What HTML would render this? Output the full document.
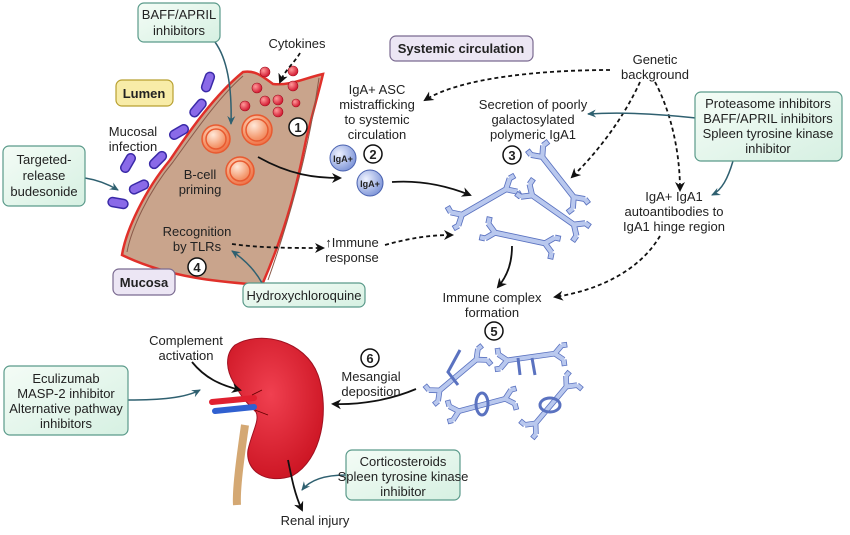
<!DOCTYPE html>
<html><head><meta charset="utf-8"><style>
html,body{margin:0;padding:0;background:#fff;}
svg{display:block;font-family:"Liberation Sans",Arial,sans-serif;}
text{font-size:13px;fill:#222;}
</style></head><body>
<svg width="850" height="535" viewBox="0 0 850 535">
<defs>
<marker id="ab" markerWidth="10" markerHeight="10" refX="8" refY="5" orient="auto" markerUnits="userSpaceOnUse"><path d="M0 0 L10 5 L0 10 L3 5Z" fill="#111"/></marker>
<marker id="at" markerWidth="10" markerHeight="10" refX="8" refY="5" orient="auto" markerUnits="userSpaceOnUse"><path d="M0 1 L9 5 L0 9 L3 5Z" fill="#2f6070"/></marker>
<radialGradient id="cell" cx="0.4" cy="0.35" r="0.7"><stop offset="0" stop-color="#ffe8d8"/><stop offset="0.6" stop-color="#f49a70"/><stop offset="1" stop-color="#ee6a40"/></radialGradient>
<radialGradient id="dot" cx="0.35" cy="0.35" r="0.7"><stop offset="0" stop-color="#ff9a9a"/><stop offset="1" stop-color="#d0102a"/></radialGradient>
<radialGradient id="iga" cx="0.35" cy="0.35" r="0.7"><stop offset="0" stop-color="#eef2ff"/><stop offset="1" stop-color="#7e95d8"/></radialGradient>
<radialGradient id="kid" cx="0.45" cy="0.4" r="0.7"><stop offset="0" stop-color="#f04050"/><stop offset="1" stop-color="#c8101e"/></radialGradient>
<linearGradient id="box" x1="0" y1="0" x2="1" y2="1"><stop offset="0" stop-color="#f4fcf6"/><stop offset="1" stop-color="#d6f0e2"/></linearGradient>
<g id="dim">
<path d="M-30 0H30 M30 0L40 -9 M30 0L40 9 M-30 0L-40 -9 M-30 0L-40 9 M40 -9L47 -9 M40 9 L40 17 M-40 -9L-40 -17 M-40 9L-47 9" stroke="#5a72c0" stroke-width="7" fill="none" stroke-linecap="butt"/>
<path d="M-30 0H30 M30 0L40 -9 M30 0L40 9 M-30 0L-40 -9 M-30 0L-40 9 M40 -9L46 -9 M40 9 L40 16 M-40 -9L-40 -16 M-40 9L-46 9" stroke="#b9c8ee" stroke-width="5" fill="none"/>
</g>
<g id="rod"><rect x="-10" y="-4.5" width="20" height="9" rx="4.5" fill="#8a6ae8" stroke="#3a2aa8" stroke-width="1.5"/></g>
</defs>

<path d="M243 72 C255 70 262 76 273 84 C290 86 305 78 323 74 C318 95 312 115 306 140 C298 180 288 225 262 285 C220 282 170 278 122 255 C126 230 145 190 170 160 C190 130 215 95 243 72Z" fill="#c9a48c" stroke="#e0302a" stroke-width="2.5"/>
<path d="M243 76 C218 98 194 133 173 162 C148 192 131 230 127 252" fill="none" stroke="#8a5a4a" stroke-width="1"/>
<path d="M319 78 C313 120 300 190 268 280" fill="none" stroke="#8a5a4a" stroke-width="1"/>

<use href="#rod" transform="translate(208,82) rotate(-70)"/>
<use href="#rod" transform="translate(198,108) rotate(-50)"/>
<use href="#rod" transform="translate(179,132) rotate(-30)"/>
<use href="#rod" transform="translate(158,160) rotate(-45)"/>
<use href="#rod" transform="translate(128,163) rotate(-60)"/>
<use href="#rod" transform="translate(139,187) rotate(-25)"/>
<use href="#rod" transform="translate(118,203) rotate(10)"/>

<g fill="url(#dot)" stroke="#a01020" stroke-width="0.6">
<circle cx="265" cy="72" r="5"/><circle cx="293" cy="71" r="5"/><circle cx="257" cy="88" r="5"/><circle cx="293" cy="86" r="5"/>
<circle cx="265" cy="101" r="5"/><circle cx="278" cy="100" r="5"/><circle cx="278" cy="112" r="5"/><circle cx="245" cy="106" r="5"/><circle cx="296" cy="103" r="4"/></g>

<g stroke="#e85a30" stroke-width="1.5">
<circle cx="216" cy="139" r="14" fill="url(#cell)"/><circle cx="216" cy="139" r="10" fill="none"/>
<circle cx="257" cy="130" r="15" fill="url(#cell)"/><circle cx="257" cy="130" r="11" fill="none"/>
<circle cx="240" cy="171" r="14" fill="url(#cell)"/><circle cx="240" cy="171" r="10" fill="none"/></g>

<path d="M245 425 C240 460 236 490 237 505" stroke="#d4a873" stroke-width="8" fill="none"/>
<path d="M235 345 C260 330 305 340 318 375 C330 410 322 460 292 476 C265 485 245 470 248 450 C252 432 260 420 256 412 C248 404 240 396 236 386 C226 372 224 355 235 345Z" fill="url(#kid)" stroke="#a01020" stroke-width="1"/>
<path d="M212 402 L254 398" stroke="#e02030" stroke-width="6" stroke-linecap="round"/>
<path d="M215 411 L254 407" stroke="#3060d0" stroke-width="6" stroke-linecap="round"/>
<path d="M252 395 L262 390 M255 410 L268 415" stroke="#600" stroke-width="0.8" fill="none"/>

<use href="#dim" transform="translate(484,202) rotate(-30) scale(0.85)"/>
<use href="#dim" transform="translate(558,177) rotate(52) scale(0.85)"/>
<use href="#dim" transform="translate(553,210) rotate(35) scale(0.85)"/>
<use href="#dim" transform="translate(520,238) rotate(12) scale(0.85)"/>
<use href="#dim" transform="translate(458,375) rotate(-40) scale(0.8)"/>
<use href="#dim" transform="translate(531,357) rotate(-8) scale(0.8)"/>
<use href="#dim" transform="translate(482,405) rotate(-15) scale(0.8)"/>
<use href="#dim" transform="translate(551,405) rotate(-50) scale(0.8)"/>
<g fill="none" stroke="#5a72c0" stroke-width="3">
<ellipse cx="482" cy="404" rx="6" ry="11"/><ellipse cx="550" cy="405" rx="10" ry="7"/>
<path d="M518 358 L520 375 M532 358 L535 375 M460 350 L448 372 L458 385"/></g>

<circle cx="343" cy="158" r="13" fill="url(#iga)" stroke="#4a62b0"/>
<text x="343" y="162" text-anchor="middle" font-weight="bold" style="font-size:9px">IgA+</text>
<circle cx="370" cy="183" r="13" fill="url(#iga)" stroke="#4a62b0"/>
<text x="370" y="187" text-anchor="middle" font-weight="bold" style="font-size:9px">IgA+</text>

<g fill="none" stroke="#111" stroke-width="1.8" marker-end="url(#ab)">
<path d="M258 157 C290 175 315 178 340 178"/>
<path d="M392 182 C420 180 445 185 470 195"/>
<path d="M512 246 C512 262 508 275 498 287"/>
<path d="M192 362 C205 378 220 385 240 390"/>
<path d="M416 389 C390 400 360 405 333 404"/>
<path d="M288 460 C292 480 295 495 302 510"/>
</g>
<g fill="none" stroke="#111" stroke-width="1.8" stroke-dasharray="4,3" marker-end="url(#ab)">
<path d="M300 53 C295 62 285 70 280 82"/>
<path d="M610 70 C540 70 460 78 425 100"/>
<path d="M640 82 C625 115 600 150 572 177"/>
<path d="M655 82 C670 110 680 150 680 190"/>
<path d="M660 236 C640 270 600 290 555 297"/>
<path d="M232 244 C260 248 290 248 323 248"/>
<path d="M385 245 C410 238 430 235 452 235"/>
</g>
<g fill="none" stroke="#2f6070" stroke-width="1.5" marker-end="url(#at)">
<path d="M215 42 C228 60 232 90 231 124"/>
<path d="M85 178 C98 180 108 184 118 190"/>
<path d="M262 283 C255 270 245 260 232 251"/>
<path d="M696 118 C660 114 620 112 588 114"/>
<path d="M733 161 C728 178 722 190 712 195"/>
<path d="M128 400 C160 400 185 398 200 390"/>
<path d="M346 475 C325 475 310 480 302 490"/>
</g>

<g stroke="#5a9a8a" stroke-width="1.2" fill="url(#box)">
<rect x="138" y="3" width="82" height="39" rx="6"/>
<rect x="3" y="146" width="82" height="60" rx="6"/>
<rect x="243" y="283" width="122" height="24" rx="6"/>
<rect x="695" y="92" width="147" height="69" rx="6"/>
<rect x="4" y="366" width="124" height="69" rx="6"/>
<rect x="346" y="450" width="114" height="50" rx="6"/>
</g>
<rect x="116" y="80" width="57" height="26" rx="6" fill="#f8eca8" stroke="#b8a030" stroke-width="1.2"/>
<rect x="113" y="269" width="62" height="26" rx="6" fill="#ece6f4" stroke="#7a6a90" stroke-width="1.2"/>
<rect x="390" y="36" width="143" height="25" rx="6" fill="#ece6f4" stroke="#7a6a90" stroke-width="1.2"/>

<g fill="#fff" stroke="#111" stroke-width="1.5">
<circle cx="298" cy="127" r="9"/><circle cx="373" cy="154" r="9"/><circle cx="512" cy="155" r="9"/>
<circle cx="197" cy="267" r="9"/><circle cx="494" cy="331" r="9"/><circle cx="370" cy="358" r="9"/></g>
<g font-weight="bold" text-anchor="middle">
<text x="298" y="132">1</text><text x="373" y="159">2</text><text x="512" y="160">3</text>
<text x="197" y="272">4</text><text x="494" y="336">5</text><text x="370" y="363">6</text></g>

<g text-anchor="middle">
<text x="179" y="19">BAFF/APRIL</text><text x="179" y="35">inhibitors</text>
<text x="297" y="48">Cytokines</text>
<text x="461" y="53" font-weight="bold">Systemic circulation</text>
<text x="144" y="98" font-weight="bold">Lumen</text>
<text x="144" y="287" font-weight="bold">Mucosa</text>
<text x="44" y="164">Targeted-</text><text x="44" y="180">release</text><text x="44" y="196">budesonide</text>
<text x="377" y="94">IgA+ ASC</text><text x="377" y="109">mistrafficking</text><text x="377" y="124">to systemic</text><text x="377" y="139">circulation</text>
<text x="533" y="109">Secretion of poorly</text><text x="533" y="124">galactosylated</text><text x="533" y="139">polymeric IgA1</text>
<text x="655" y="64">Genetic</text><text x="655" y="79">background</text>
<text x="768" y="108">Proteasome inhibitors</text><text x="768" y="123">BAFF/APRIL inhibitors</text><text x="768" y="138">Spleen tyrosine kinase</text><text x="768" y="153">inhibitor</text>
<text x="133" y="136">Mucosal</text><text x="133" y="151">infection</text>
<text x="200" y="179">B-cell</text><text x="200" y="194">priming</text>
<text x="197" y="236">Recognition</text><text x="197" y="251">by TLRs</text>
<text x="352" y="247">↑Immune</text><text x="352" y="262">response</text>
<text x="304" y="300">Hydroxychloroquine</text>
<text x="674" y="201">IgA+ IgA1</text><text x="674" y="216">autoantibodies to</text><text x="674" y="231">IgA1 hinge region</text>
<text x="492" y="302">Immune complex</text><text x="492" y="317">formation</text>
<text x="186" y="345">Complement</text><text x="186" y="360">activation</text>
<text x="371" y="381">Mesangial</text><text x="371" y="396">deposition</text>
<text x="66" y="383">Eculizumab</text><text x="66" y="398">MASP-2 inhibitor</text><text x="66" y="413">Alternative pathway</text><text x="66" y="428">inhibitors</text>
<text x="403" y="466">Corticosteroids</text><text x="403" y="481">Spleen tyrosine kinase</text><text x="403" y="496">inhibitor</text>
<text x="315" y="525">Renal injury</text>
</g>
</svg>
</body></html>
